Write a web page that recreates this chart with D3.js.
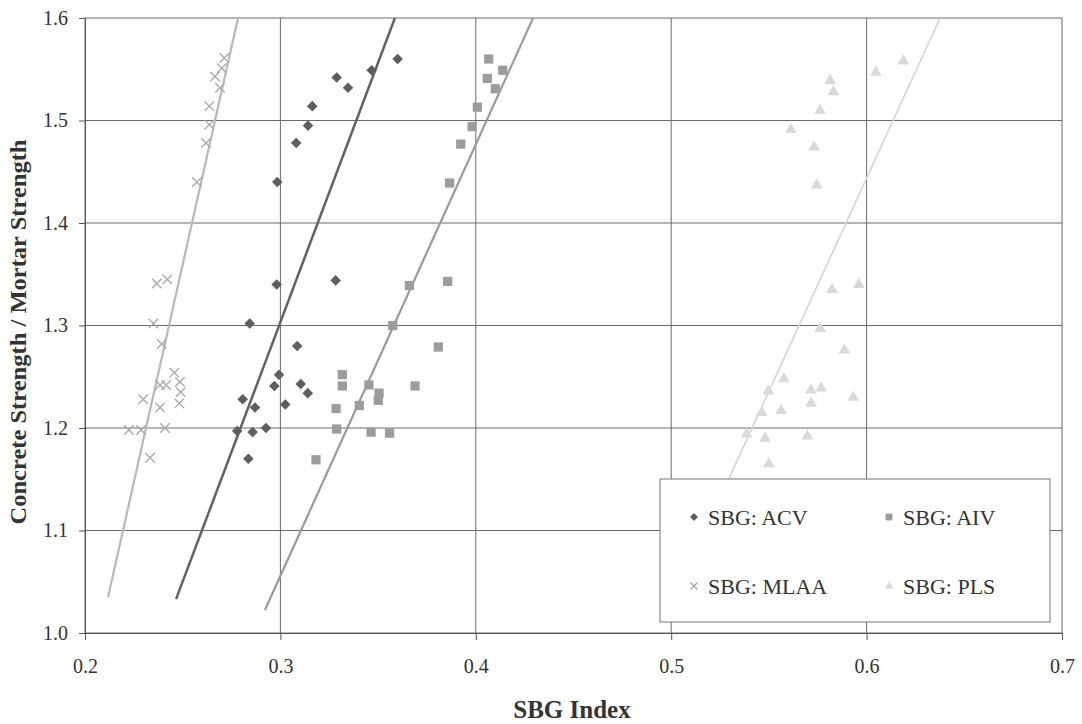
<!DOCTYPE html>
<html><head><meta charset="utf-8">
<script src="https://cdn.jsdelivr.net/npm/d3@7"></script>
<style>body{margin:0;background:#fff}svg{display:block}</style>
</head><body><svg id="c" width="1082" height="724"></svg>
<script>
const xTicks = [0.2,0.3,0.4,0.5,0.6,0.7];
const yTicks = [1.0,1.1,1.2,1.3,1.4,1.5,1.6];
const seriesNames = ["SBG: ACV","SBG: AIV","SBG: MLAA","SBG: PLS"];

const acvX = [0.3600,0.3467,0.3288,0.3346,0.3163,0.3141,0.3081,0.2984,0.2981,0.3283,0.2843,0.3086,0.2993,0.2969,0.3104,0.3140,0.2807,0.2870,0.3025,0.2779,0.2858,0.2926,0.2836];
const acvY = [1.560,1.549,1.542,1.532,1.514,1.495,1.478,1.440,1.340,1.344,1.302,1.280,1.252,1.241,1.243,1.234,1.228,1.220,1.223,1.197,1.196,1.200,1.170];

const aivX = [0.4066,0.4138,0.4059,0.4100,0.4008,0.3981,0.3923,0.3866,0.3856,0.3660,0.3575,0.3808,0.3317,0.3317,0.3453,0.3505,0.3501,0.3689,0.3285,0.3404,0.3288,0.3464,0.3559,0.3182];
const aivY = [1.560,1.549,1.541,1.531,1.513,1.494,1.477,1.439,1.343,1.339,1.300,1.279,1.252,1.241,1.242,1.234,1.227,1.241,1.219,1.222,1.199,1.196,1.195,1.169];

const mlaaX = [0.2713,0.2700,0.2665,0.2691,0.2636,0.2636,0.2619,0.2572,0.2367,0.2421,0.2350,0.2393,0.2457,0.2384,0.2415,0.2486,0.2490,0.2298,0.2384,0.2483,0.2225,0.2287,0.2409,0.2333];
const mlaaY = [1.561,1.551,1.543,1.532,1.514,1.496,1.478,1.440,1.341,1.345,1.302,1.282,1.254,1.242,1.242,1.245,1.235,1.228,1.220,1.224,1.198,1.198,1.200,1.171];

const plsX = [0.6188,0.6047,0.5813,0.5830,0.5762,0.5612,0.5731,0.5745,0.5960,0.5823,0.5763,0.5886,0.5577,0.5497,0.5716,0.5768,0.5932,0.5716,0.5563,0.5463,0.5386,0.5480,0.5697,0.5500];
const plsY = [1.558,1.547,1.539,1.528,1.510,1.491,1.474,1.437,1.340,1.335,1.297,1.276,1.248,1.236,1.237,1.239,1.230,1.224,1.217,1.215,1.194,1.190,1.192,1.165];

// trendline endpoints [x0, y0, x1, y1]
const acvTrend  = [0.2466,1.033,0.3586,1.6];
const aivTrend  = [0.2921,1.0225,0.4293,1.6];
const mlaaTrend = [0.2118,1.035,0.2783,1.6];
const plsTrend  = [0.5005,1.03,0.6376,1.6];

const FONT = "font-family:'Liberation Serif', 'Times New Roman', Times, serif";
const svg = d3.select("#c");
const L=85, R=1062, T=18, B=633;
const x = d3.scaleLinear().domain([0.2,0.7]).range([L,R]);
const y = d3.scaleLinear().domain([1.0,1.6]).range([B,T]);

const g = svg.append("g");
g.selectAll(".gx").data(xTicks).join("line")
  .attr("x1",d=>x(d)).attr("x2",d=>x(d)).attr("y1",T).attr("y2",B)
  .attr("stroke","#6a6a6a").attr("stroke-width",1);
g.selectAll(".gy").data(yTicks).join("line")
  .attr("x1",L).attr("x2",R).attr("y1",d=>y(d)).attr("y2",d=>y(d))
  .attr("stroke","#6a6a6a").attr("stroke-width",1);

const xa = svg.append("g").attr("transform",`translate(0,${B})`)
  .call(d3.axisBottom(x).tickValues(xTicks).tickSize(7).tickFormat(d3.format(".1f")));
const ya = svg.append("g").attr("transform",`translate(${L},0)`)
  .call(d3.axisLeft(y).tickValues(yTicks).tickSize(6).tickFormat(d3.format(".1f")));
[xa,ya].forEach(a=>{
  a.attr("font-family",null).attr("font-size",null);
  a.select(".domain").attr("stroke","#555");
  a.selectAll(".tick line").attr("stroke","#555");
  a.selectAll("text").attr("style",FONT+";font-size:20px").attr("fill","#333");
});
xa.selectAll("text").attr("dy","1.5em");
ya.selectAll("text").attr("x",-17).attr("dy","0.32em");

svg.append("clipPath").attr("id","clip").append("rect")
  .attr("x",L).attr("y",T).attr("width",R-L).attr("height",B-T);

const series = [
  {name:seriesNames[0], xs:acvX, ys:acvY, trend:acvTrend, color:"#5e5e5e", line:"#626262", lw:2.5, sym:d3.symbolSquare, size:56, rot:45},
  {name:seriesNames[1], xs:aivX, ys:aivY, trend:aivTrend, color:"#9c9c9c", line:"#9a9a9a", lw:2.2, sym:d3.symbolSquare, size:85, rot:0},
  {name:seriesNames[2], xs:mlaaX, ys:mlaaY, trend:mlaaTrend, color:"#ababab", line:"#b8b8b8", lw:2.2, sym:d3.symbolX, size:60, rot:0, stroke:true},
  {name:seriesNames[3], xs:plsX, ys:plsY, trend:plsTrend, color:"#d9d9d9", line:"#d4d4d4", lw:1.6, sym:d3.symbolTriangle, size:60, rot:0},
];

const pg = svg.append("g").attr("clip-path","url(#clip)");
series.forEach(s=>{
  pg.append("line")
    .attr("x1",x(s.trend[0])).attr("y1",y(s.trend[1]))
    .attr("x2",x(s.trend[2])).attr("y2",y(s.trend[3]))
    .attr("stroke",s.line).attr("stroke-width",s.lw);
});
function drawSym(sel, s){
  sel.attr("d",d3.symbol().type(s.sym).size(s.size));
  if(s.stroke) sel.attr("fill","none").attr("stroke",s.color).attr("stroke-width",1.4);
  else sel.attr("fill",s.color);
}
series.forEach(s=>{
  const pts = s.xs.map((v,i)=>[v,s.ys[i]]);
  pg.selectAll(null).data(pts).join("path")
    .attr("transform",d=>`translate(${x(d[0])},${y(d[1])}) rotate(${s.rot})`)
    .call(sel=>drawSym(sel,s));
});

const lg = svg.append("g");
lg.append("rect").attr("x",660).attr("y",479).attr("width",390).attr("height",143)
  .attr("fill","#fff").attr("stroke","#777").attr("stroke-width",1);
const pos = [[694,517],[889,517],[694,586],[889,586]];
series.forEach((s,i)=>{
  const [px,py]=pos[i];
  const m = lg.append("path").attr("transform",`translate(${px},${py}) rotate(${s.rot})`);
  drawSym(m,{...s,size:s.size*0.55});
  lg.append("text").attr("x",px+14).attr("y",py+8).text(s.name)
    .attr("style",FONT+";font-size:22px").attr("fill","#333");
});

svg.append("text").attr("x",572).attr("y",718).attr("text-anchor","middle")
  .attr("style",FONT+";font-size:25px;font-weight:bold").attr("fill","#333")
  .text("SBG Index");
svg.append("text").attr("transform",`translate(26,${332}) rotate(-90)`).attr("text-anchor","middle")
  .attr("style",FONT+";font-size:23px;font-weight:bold").attr("fill","#333")
  .attr("textLength",385).attr("lengthAdjust","spacingAndGlyphs")
  .text("Concrete Strength / Mortar Strength");
</script></body></html>
